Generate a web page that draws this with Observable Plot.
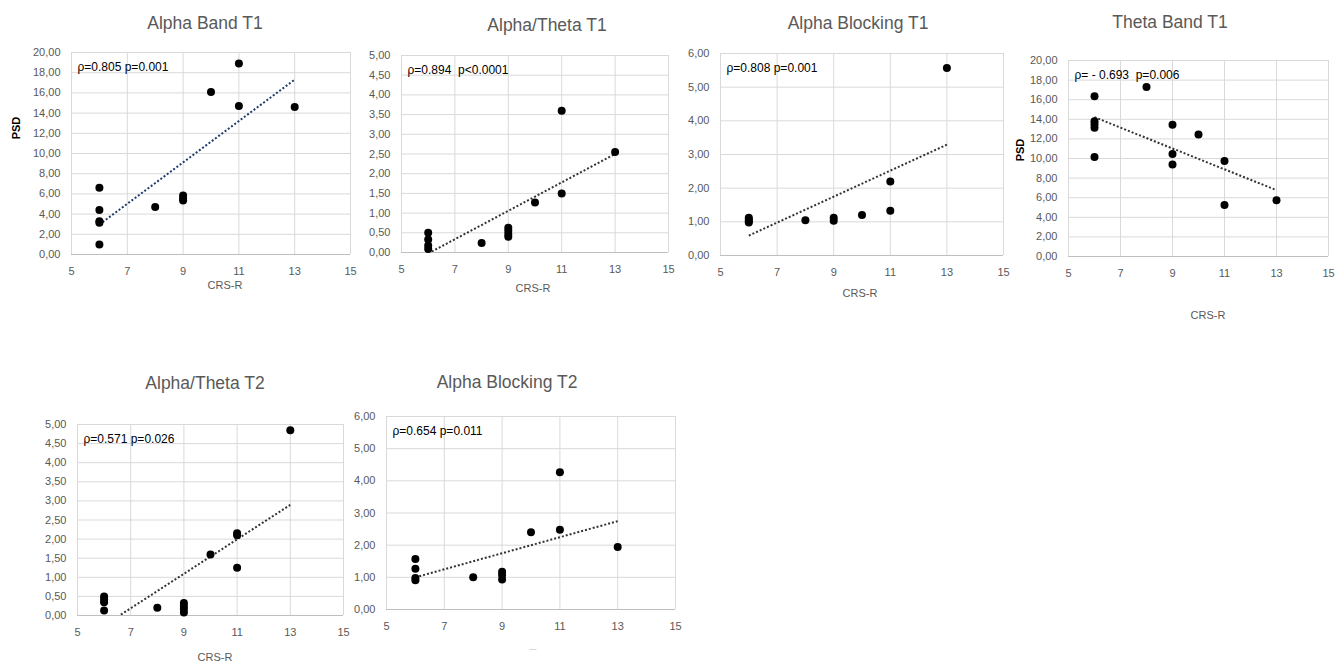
<!DOCTYPE html>
<html>
<head>
<meta charset="utf-8">
<script src="https://cdn.jsdelivr.net/npm/d3@7"></script>
<script src="https://cdn.jsdelivr.net/npm/@observablehq/plot@0.6"></script>
<style>
  html, body { margin: 0; padding: 0; background: #fff; }
  #root { position: relative; width: 1344px; height: 663px; overflow: hidden; font-family: "Liberation Sans", Arial, sans-serif; }
  .abs { position: absolute; white-space: nowrap; transform: translate(-50%, -50%); }
  .title { font-size: 17.5px; color: #595959; }
  .xlab { font-size: 11px; color: #595959; }
  .ylab { font-size: 11px; color: #000; font-weight: bold; transform: translate(-50%, -50%) rotate(-90deg); }
  .panel { position: absolute; }
</style>
</head>
<body>
<div id="root"></div>
<script>
// ---- data (CRS-R score vs PSD measure) ----
const alphaBandT1_x = [6, 6, 6, 6, 6, 8, 9, 9, 9, 10, 11, 11, 13];
const alphaBandT1_y = [6.6, 4.4, 3.3, 3.15, 1.0, 4.7, 5.85, 5.55, 5.35, 16.1, 18.9, 14.7, 14.6];

const alphaThetaT1_x = [6, 6, 6, 6, 8, 9, 9, 9, 9, 10, 11, 11, 13];
const alphaThetaT1_y = [0.5, 0.33, 0.18, 0.09, 0.24, 0.63, 0.55, 0.47, 0.4, 1.27, 3.6, 1.5, 2.55];

const alphaBlockingT1_x = [6, 6, 6, 6, 8, 9, 9, 10, 11, 11, 13];
const alphaBlockingT1_y = [1.12, 1.07, 1.02, 0.98, 1.05, 1.12, 1.03, 1.2, 2.2, 1.33, 5.57];

const thetaBandT1_x = [6, 6, 6, 6, 6, 8, 9, 9, 9, 10, 11, 11, 13];
const thetaBandT1_y = [16.35, 13.8, 13.5, 13.15, 10.15, 17.3, 13.45, 10.45, 9.4, 12.45, 9.75, 5.25, 5.75];

const alphaThetaT2_x = [6, 6, 6, 6, 8, 9, 9, 9, 9, 10, 11, 11, 11, 13];
const alphaThetaT2_y = [0.5, 0.42, 0.35, 0.13, 0.2, 0.33, 0.25, 0.17, 0.08, 1.6, 2.15, 2.1, 1.25, 4.85];

const alphaBlockingT2_x = [6, 6, 6, 6, 8, 9, 9, 9, 10, 11, 11, 13];
const alphaBlockingT2_y = [1.57, 1.27, 0.98, 0.91, 1.0, 1.17, 1.07, 0.93, 2.4, 4.27, 2.48, 1.94];

const titles = ["Alpha Band T1", "Alpha/Theta T1", "Alpha Blocking T1", "Theta Band T1", "Alpha/Theta T2", "Alpha Blocking T2"];
const stats = ["ρ=0.805 p=0.001", "ρ=0.894  p<0.0001", "ρ=0.808 p=0.001", "ρ= - 0.693  p=0.006", "ρ=0.571 p=0.026", "ρ=0.654 p=0.011"];
const xTitles = ["CRS-R", "CRS-R", "CRS-R", "CRS-R", "CRS-R", "---"];
const yTitles = ["PSD", null, null, "PSD", null, null];
const xTicks = [5, 7, 9, 11, 13, 15];
const yTicks20 = [0, 2, 4, 6, 8, 10, 12, 14, 16, 18, 20];
const yTicks5 = [0, 0.5, 1, 1.5, 2, 2.5, 3, 3.5, 4, 4.5, 5];
const yTicks6 = [0, 1, 2, 3, 4, 5, 6];

// ---- layout (frame in page px) ----
const panels = [
  {xs: alphaBandT1_x, ys: alphaBandT1_y, yt: yTicks20, frame: [71, 350, 52, 254], title: [205, 23], xl: [225, 285], yl: [16, 128], trend: "#1f3a6e"},
  {xs: alphaThetaT1_x, ys: alphaThetaT1_y, yt: yTicks5, frame: [401, 668, 55, 252], title: [547, 25], xl: [533, 288], trend: "#333"},
  {xs: alphaBlockingT1_x, ys: alphaBlockingT1_y, yt: yTicks6, frame: [720, 1003, 53, 255], title: [858, 23], xl: [860, 293], trend: "#333"},
  {xs: thetaBandT1_x, ys: thetaBandT1_y, yt: yTicks20, frame: [1068, 1328, 60, 256], title: [1170, 22], xl: [1208, 315], yl: [1020, 150], trend: "#333"},
  {xs: alphaThetaT2_x, ys: alphaThetaT2_y, yt: yTicks5, frame: [77, 343, 424, 615], title: [205, 383], xl: [215, 657], trend: "#333"},
  {xs: alphaBlockingT2_x, ys: alphaBlockingT2_y, yt: yTicks6, frame: [386, 675, 416, 609], title: [507, 382], xl: [533, 648], trend: "#333"}
];

const root = document.getElementById("root");
const fmt = d => d3.format(".2f")(d).replace(".", ",");
const ML = 55, MR = 12, MT = 8, MB = 32;

panels.forEach((p, i) => {
  const data = p.xs.map((x, j) => ({x, y: p.ys[j]}));
  const [l, r, t, b] = p.frame;
  const yMax = p.yt[p.yt.length - 1];
  const chart = Plot.plot({
    width: ML + (r - l) + MR,
    height: MT + (b - t) + MB,
    marginLeft: ML, marginRight: MR, marginTop: MT, marginBottom: MB,
    style: {fontFamily: "Liberation Sans, Arial, sans-serif", fontSize: "11px", color: "#595959", background: "transparent", overflow: "visible"},
    x: {domain: [5, 15]},
    y: {domain: [0, yMax]},
    marks: [
      Plot.gridX(xTicks, {stroke: "#d9d9d9", strokeOpacity: 1}),
      Plot.gridY(p.yt, {stroke: "#d9d9d9", strokeOpacity: 1}),
      Plot.ruleY([0], {stroke: "#bfbfbf"}),
      Plot.axisX(xTicks, {tickSize: 0, tickPadding: 13, tickFormat: d => d, label: null, fill: "#595959"}),
      Plot.axisY(p.yt, {tickSize: 0, tickPadding: 11, tickFormat: fmt, label: null, fill: "#595959"}),
      Plot.linearRegressionY(data, {x: "x", y: "y", ci: 0, stroke: p.trend, strokeWidth: 2, strokeDasharray: "2,2", strokeLinecap: "butt", clip: true}),
      Plot.dot(data, {x: "x", y: "y", r: 4, fill: "#000", stroke: "none"}),
      Plot.text([stats[i]], {text: d => d, frameAnchor: "top-left", dx: 6, dy: 10, fill: "#000", fontSize: 12, textAnchor: "start"})
    ]
  });
  const wrap = document.createElement("div");
  wrap.className = "panel";
  wrap.style.left = (l - ML) + "px";
  wrap.style.top = (t - MT) + "px";
  wrap.appendChild(chart);
  root.appendChild(wrap);

  const ti = document.createElement("div");
  ti.className = "abs title";
  ti.style.left = p.title[0] + "px"; ti.style.top = p.title[1] + "px";
  ti.textContent = titles[i];
  root.appendChild(ti);

  const xl = document.createElement("div");
  xl.className = "abs xlab";
  xl.style.left = p.xl[0] + "px"; xl.style.top = p.xl[1] + "px";
  if (xTitles[i] === "---") { xl.style.fontSize = "7px"; xl.style.color = "#aaa"; }
  xl.textContent = xTitles[i];
  root.appendChild(xl);

  if (yTitles[i]) {
    const yl = document.createElement("div");
    yl.className = "abs ylab";
    yl.style.left = p.yl[0] + "px"; yl.style.top = p.yl[1] + "px";
    yl.textContent = yTitles[i];
    root.appendChild(yl);
  }
});
</script>
</body>
</html>
